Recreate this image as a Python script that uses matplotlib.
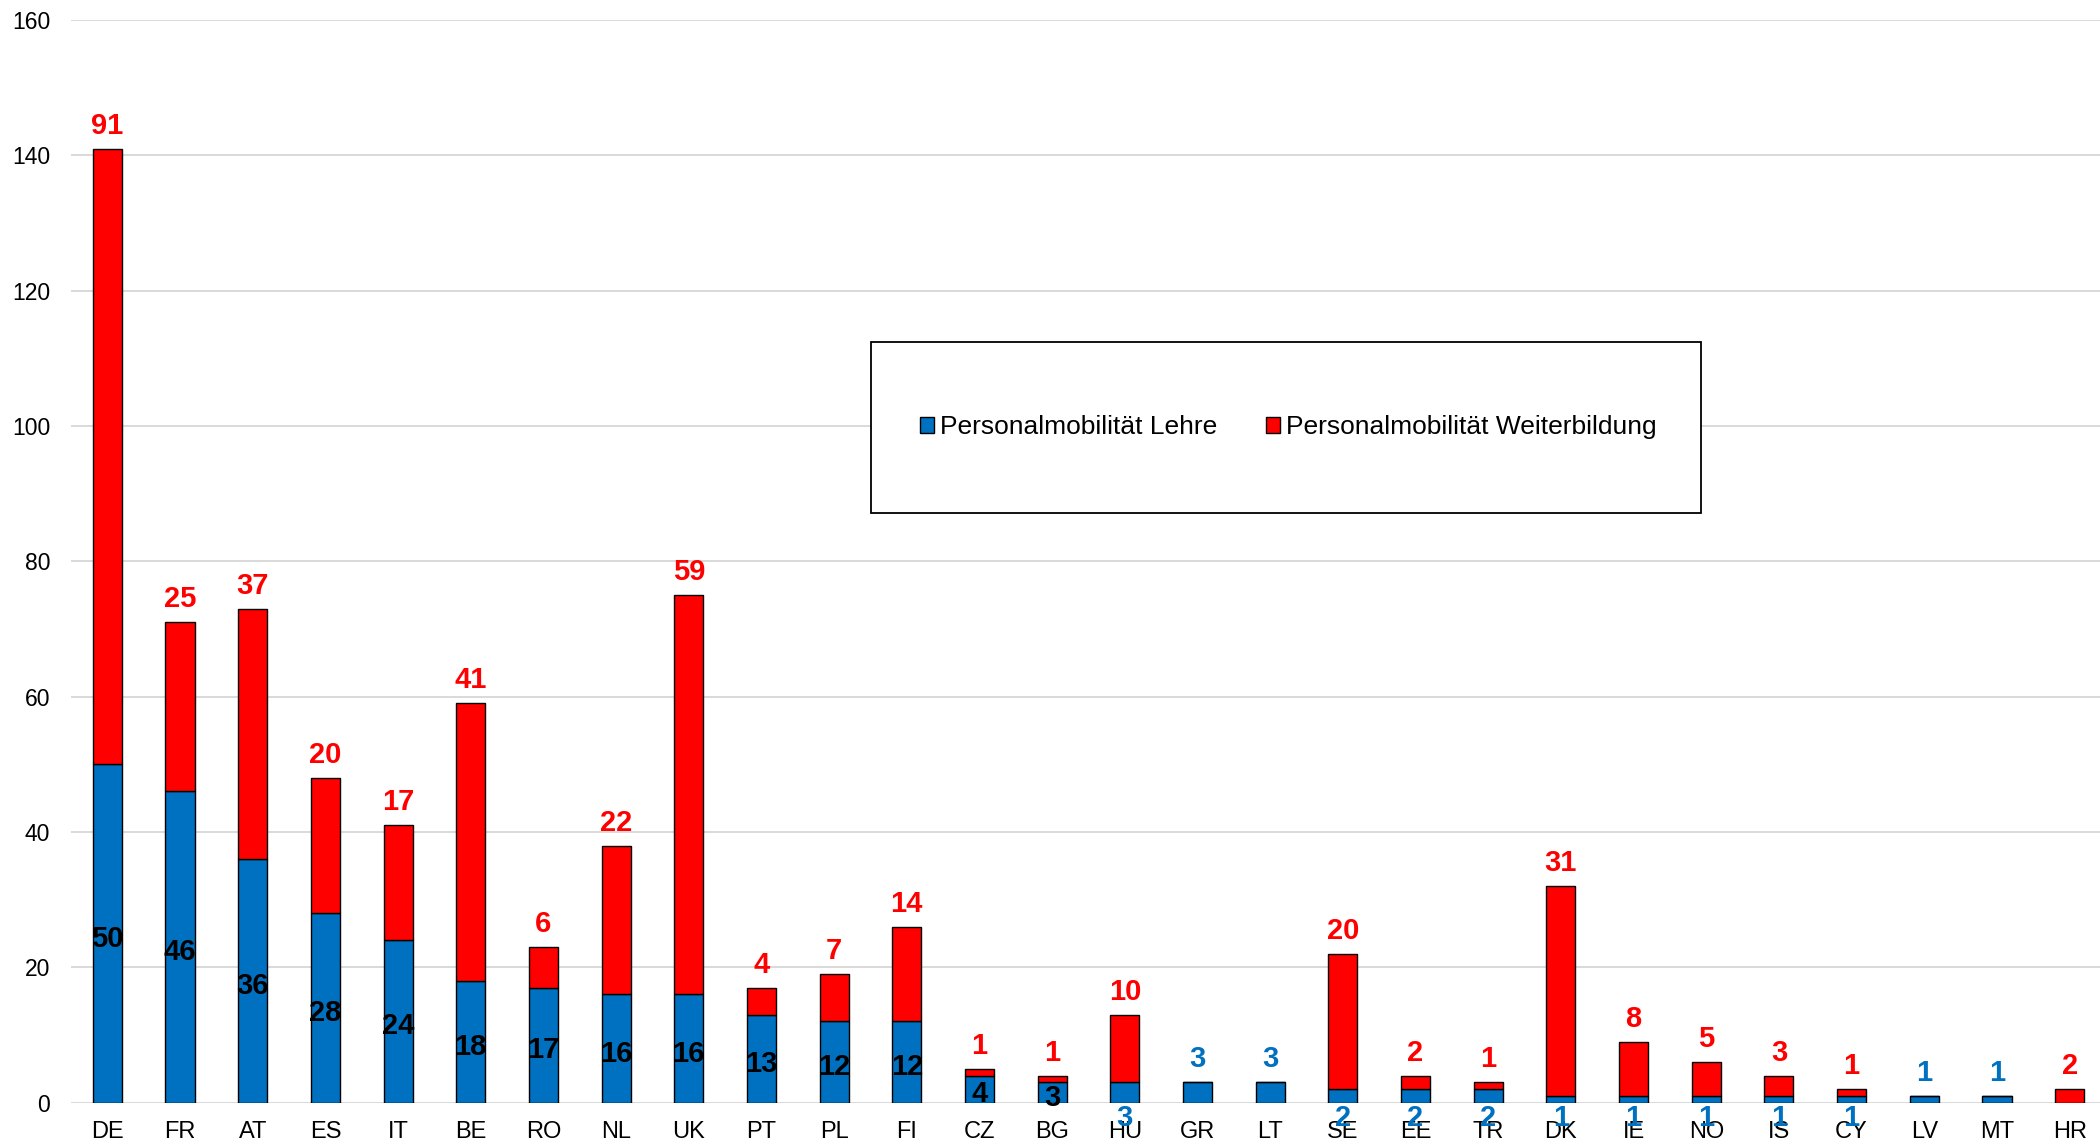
import matplotlib
matplotlib.use("Agg")
import matplotlib.pyplot as plt
from matplotlib.patches import Rectangle, Patch
import numpy as np

plt.rcParams['font.family'] = ['Liberation Sans', 'DejaVu Sans']

countries = ["DE", "FR", "AT", "ES", "IT", "BE", "RO", "NL", "UK", "PT", "PL", "FI",
             "CZ", "BG", "HU", "GR", "LT", "SE", "EE", "TR", "DK", "IE", "NO", "IS",
             "CY", "LV", "MT", "HR"]
lehre = [50, 46, 36, 28, 24, 18, 17, 16, 16, 13, 12, 12,
         4, 3, 3, 3, 3, 2, 2, 2, 1, 1, 1, 1,
         1, 1, 1, 0]
weiterbildung = [91, 25, 37, 20, 17, 41, 6, 22, 59, 4, 7, 14,
                 1, 1, 10, 0, 0, 20, 2, 1, 31, 8, 5, 3,
                 1, 0, 0, 2]
series_names = ["Personalmobilität Lehre", "Personalmobilität Weiterbildung"]
y_ticks = [0, 20, 40, 60, 80, 100, 120, 140, 160]

# where the "Lehre" value label sits: inside the segment, above the bar, or under the axis
lehre_label_pos = ["center"] * 14 + ["below", "top", "top", "below", "below", "below",
                                     "below", "below", "below", "below", "below",
                                     "top", "top", "none"]

BLUE = "#0070C0"
RED = "#FF0000"

W, H = 2100, 1144
fig = plt.figure(figsize=(W / 100, H / 100), dpi=100)
ax = fig.add_axes([71 / W, (H - 1102.7) / H, 2035 / W, (1102.7 - 20) / H])

x = np.arange(len(countries))
lehre_a = np.array(lehre)
weiter_a = np.array(weiterbildung)
bw = 0.40

ax.bar(x, lehre_a, width=bw, color=BLUE, edgecolor="black", linewidth=1.0, zorder=3)
ax.bar(x, weiter_a, width=bw, bottom=lehre_a, color=RED, edgecolor="black",
       linewidth=1.0, zorder=3)

ax.set_xlim(-0.5, len(countries) - 0.5)
ax.set_ylim(0, 160)
ax.set_yticks(y_ticks)
ax.set_xticks(x)
ax.set_xticklabels(countries)
ax.tick_params(axis="y", length=0, pad=15, labelsize=16.5)
ax.tick_params(axis="x", length=0, pad=13.5, labelsize=17)
ax.grid(axis="y", color="#D9D9D9", linewidth=1.4, zorder=0)
ax.set_axisbelow(True)
for s in ax.spines.values():
    s.set_visible(False)

label_kw = dict(textcoords="offset pixels", ha="center", va="baseline",
                fontsize=21, fontweight="bold", zorder=4, annotation_clip=False)

# labels for the "Lehre" segment
for xi, v, pos in zip(x, lehre_a, lehre_label_pos):
    if pos == "center":
        ax.annotate(str(v), (xi, v / 2), xytext=(0, -13), color="black", **label_kw)
    elif pos == "top":
        ax.annotate(str(v), (xi, v), xytext=(0, 15), color=BLUE, **label_kw)
    elif pos == "below":
        ax.annotate(str(v), (xi, 0), xytext=(0, -23), color=BLUE, **label_kw)

# labels for the "Weiterbildung" segment, at the top of each stack
for xi, lo, v in zip(x, lehre_a, weiter_a):
    if v > 0:
        ax.annotate(str(v), (xi, lo + v), xytext=(0, 15), color=RED, **label_kw)

# legend with a framed box
box = Rectangle((871 / W, 1 - 513 / H), (1701 - 871) / W, (513 - 341.5) / H,
                transform=fig.transFigure, facecolor="white", edgecolor="black",
                linewidth=1.3, zorder=1)
fig.add_artist(box)
handles = [Patch(facecolor=BLUE, edgecolor="black", linewidth=1.0),
           Patch(facecolor=RED, edgecolor="black", linewidth=1.0)]
leg = fig.legend(handles, series_names, loc="center left",
                 bbox_to_anchor=(920 / W, 1 - 427 / H), bbox_transform=fig.transFigure,
                 ncol=2, frameon=False, fontsize=19, handlelength=0.53,
                 handleheight=0.57, handletextpad=0.23, columnspacing=1.85,
                 borderpad=0, borderaxespad=0)
leg.set_zorder(2)

fig.savefig("out.png", dpi=100)
